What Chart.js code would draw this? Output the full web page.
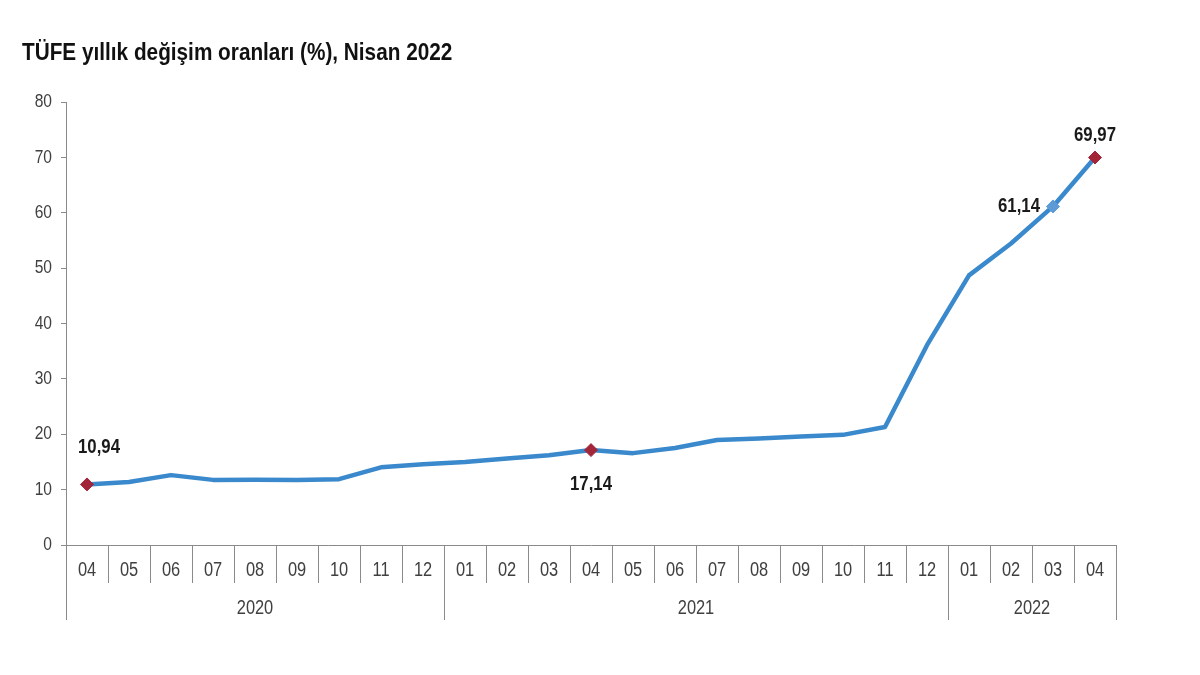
<!DOCTYPE html>
<html lang="tr">
<head>
<meta charset="UTF-8">
<title>TÜFE yıllık değişim oranları</title>
<script src="https://cdn.jsdelivr.net/npm/chart.js"></script>
<style>
  html, body { margin: 0; padding: 0; background: #fff; }
  #wrap { width: 1200px; height: 675px; }
</style>
</head>
<body>
<div id="wrap"><canvas id="tufeChart" width="1200" height="675"></canvas></div>
<script>
// months on the axis (Nisan 2020 - Nisan 2022)
const months = ['04','05','06','07','08','09','10','11','12',
                '01','02','03','04','05','06','07','08','09','10','11','12',
                '01','02','03','04'];
const years = ['2020', '2021', '2022'];
const yearSpans = [9, 12, 4];   // how many months under each year

// annual CPI change, %
const tufe = [10.94, 11.39, 12.62, 11.76, 11.77, 11.75, 11.89, 14.03, 14.60,
              14.97, 15.61, 16.19, 17.14, 16.59, 17.53, 18.95, 19.25, 19.58, 19.89, 21.31, 36.08,
              48.69, 54.44, 61.14, 69.97];

// points that get a marker and a value label
const labelled = [0, 12, 23, 24];

const titleText = 'TÜFE yıllık değişim oranları (%), Nisan 2022';

const lineBlue = '#3a89cc';
const markRed = '#a3253a';
const markBlue = '#5c9bd6';
const axisGrey = '#8a8a8a';
const textGrey = '#404040';
const FONT = '"Liberation Sans", Arial, sans-serif';
const NARROW = 0.82;   // the original uses a narrow face, so squeeze the text

function fmt(v) {
    return v.toFixed(2).replace('.', ',');
}

// text squeezed horizontally around its anchor point
function narrowText(ctx, text, x, y, font, color, align, sx) {
    ctx.save();
    ctx.font = font;
    ctx.fillStyle = color;
    ctx.textAlign = align;
    ctx.textBaseline = 'middle';
    ctx.translate(x, y);
    ctx.scale(sx || NARROW, 1);
    ctx.fillText(text, 0, 0);
    ctx.restore();
}

// title at the top left
const titlePlugin = {
    id: 'titlePlugin',
    afterDraw(chart) {
        narrowText(chart.ctx, titleText, 22, 53, 'bold 24px ' + FONT, '#111', 'left', 0.865);
    }
};

// value labels next to the marked points
const valueLabels = {
    id: 'valueLabels',
    afterDatasetsDraw(chart) {
        const meta = chart.getDatasetMeta(0);
        labelled.forEach(i => {
            const pt = meta.data[i];
            let dx = 0, dy = -22, align = 'center';
            if (i === 0) { dx = 12; dy = -37; }
            if (i === 12) { dy = 34; }
            if (i === 23) { dx = -13; dy = 0; align = 'right'; }
            narrowText(chart.ctx, fmt(tufe[i]), pt.x + dx, pt.y + dy,
                       'bold 20px ' + FONT, '#1a1a1a', align, 0.84);
        });
    }
};

// tick labels of both axes, month dividers, year dividers and year labels
const axisText = {
    id: 'axisText',
    afterDraw(chart) {
        const x = chart.scales.x;
        const y = chart.scales.y;
        const ctx = chart.ctx;
        const base = chart.chartArea.bottom;
        const band = x.getPixelForValue(1) - x.getPixelForValue(0);
        const edge = i => x.getPixelForValue(i) - band / 2;

        y.ticks.forEach(t => {
            narrowText(ctx, String(t.value), y.right - 14, y.getPixelForValue(t.value),
                       '19px ' + FONT, textGrey, 'right');
        });
        months.forEach((m, i) => {
            narrowText(ctx, m, x.getPixelForValue(i), base + 25, '20px ' + FONT, textGrey, 'center');
        });

        ctx.save();
        ctx.strokeStyle = axisGrey;
        ctx.lineWidth = 1;
        const yearEnds = [0];
        yearSpans.reduce((a, n) => { yearEnds.push(a + n); return a + n; }, 0);
        for (let i = 0; i <= months.length; i++) {
            const long = yearEnds.includes(i);
            const px = Math.round(edge(i)) + 0.5;
            ctx.beginPath();
            ctx.moveTo(px, base);
            ctx.lineTo(px, base + (long ? 75 : 38));
            ctx.stroke();
        }
        ctx.restore();

        years.forEach((yr, k) => {
            const mid = (edge(yearEnds[k]) + edge(yearEnds[k + 1])) / 2;
            narrowText(ctx, yr, mid, base + 63, '20px ' + FONT, textGrey, 'center');
        });
    }
};

const ctx = document.getElementById('tufeChart').getContext('2d');

new Chart(ctx, {
    type: 'line',
    data: {
        labels: months,
        datasets: [{
            data: tufe,
            borderColor: lineBlue,
            borderWidth: 4.5,
            borderJoinStyle: 'round',
            borderCapStyle: 'round',
            tension: 0,
            fill: false,
            pointStyle: 'rectRot',
            pointRadius: tufe.map((v, i) => labelled.includes(i) ? 6.5 : 0),
            pointBackgroundColor: tufe.map((v, i) => i === 23 ? markBlue : markRed),
            pointBorderColor: tufe.map((v, i) => i === 23 ? markBlue : markRed),
            pointBorderWidth: 1
        }]
    },
    options: {
        responsive: false,
        animation: false,
        layout: { padding: { left: 0, right: 84, top: 102, bottom: 50 } },
        plugins: {
            legend: { display: false },
            tooltip: { enabled: false },
            title: { display: false }
        },
        scales: {
            x: {
                offset: true,
                grid: { display: false, drawTicks: false },
                border: { display: true, color: axisGrey, width: 1 },
                ticks: { color: 'rgba(0,0,0,0)', autoSkip: false, maxRotation: 0 },
                afterFit(scale) { scale.height = 80; }
            },
            y: {
                min: 0,
                max: 80,
                grid: { drawOnChartArea: false, drawTicks: true, tickLength: 5, color: axisGrey },
                border: { display: true, color: axisGrey, width: 1 },
                ticks: { stepSize: 10, color: 'rgba(0,0,0,0)' },
                afterFit(scale) { scale.width = 66; }
            }
        }
    },
    plugins: [titlePlugin, valueLabels, axisText]
});
</script>
</body>
</html>
